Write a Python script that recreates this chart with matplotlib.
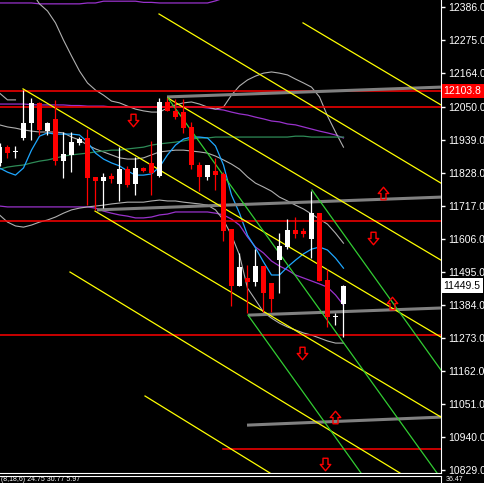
import numpy as np
import matplotlib
matplotlib.use('Agg')
import matplotlib.pyplot as plt
from matplotlib.path import Path
from matplotlib.transforms import blended_transform_factory

# candles (bar index 0..43)
opens = [11862, 11916, 11900, 11946, 11996, 12064, 11969, 12010, 11868, 11889,
         11929, 11946, 11815, 11801, 11818, 11791, 11842, 11791, 11845, 11862,
         11818, 12067, 12037, 12033, 11983, 11855, 11815, 11835, 11825, 11640,
         11448, 11475, 11461, 11515, 11458, 11535, 11579, 11636, 11633, 11606,
         11694, 11468, 11343, 11387]
highs = [11930, 11922, 11919, 12107, 12080, 12066, 11999, 12074, 11966, 11966,
         11949, 11976, 11815, 11828, 11828, 11916, 11852, 11882, 11849, 11936,
         12080, 12080, 12077, 12077, 11999, 11865, 11855, 11879, 11831, 11640,
         11559, 11519, 11572, 11515, 11458, 11626, 11673, 11680, 11643, 11768,
         11694, 11505, 11357, 11450]
lows = [11850, 11879, 11879, 11939, 11939, 11956, 11956, 11855, 11811, 11831,
        11922, 11720, 11704, 11710, 11794, 11734, 11781, 11754, 11830, 11754,
        11815, 12037, 12010, 11963, 11842, 11768, 11805, 11771, 11599, 11381,
        11448, 11357, 11448, 11360, 11360, 11424, 11572, 11609, 11613, 11542,
        11465, 11310, 11317, 11276]
closes = [11916, 11895, 11903, 11996, 12064, 11973, 11996, 11868, 11892, 11932,
          11942, 11811, 11801, 11815, 11808, 11842, 11788, 11845, 11835, 11828,
          12067, 12037, 12016, 11979, 11855, 11815, 11855, 11821, 11633, 11448,
          11512, 11461, 11515, 11424, 11404, 11583, 11636, 11623, 11623, 11694,
          11465, 11344, 11346, 11449.5]

# moving averages
fast_ma = [11845, 11831, 11821, 11845, 11905, 11952, 11963, 11959, 11959, 11959,
           11956, 11932, 11895, 11875, 11862, 11852, 11835, 11821, 11821, 11825,
           11848, 11889, 11922, 11942, 11949, 11949, 11946, 11919, 11855, 11754,
           11693, 11619, 11576, 11529, 11485, 11485, 11512, 11535, 11556, 11572,
           11579, 11569, 11542, 11508]
slow_ma = [11841, 11848, 11852, 11855, 11862, 11868, 11872, 11878, 11885, 11889,
           11892, 11895, 11899, 11902, 11905, 11905, 11909, 11912, 11915, 11922,
           11926, 11929, 11932, 11936, 11942, 11946, 11946, 11949, 11949, 11949,
           11949, 11949, 11949, 11949, 11949, 11949, 11949, 11952, 11952, 11949,
           11949, 11949, 11949, 11949]

# long bands (purple)
band_long_upper = [12400, 12400, 12400, 12400, 12400, 12397, 12397, 12397, 12397, 12397,
                   12397, 12400, 12400, 12406, 12406, 12406, 12406, 12406, 12402, 12402,
                   12400, 12400, 12400, 12400, 12400, 12400, 12400, 12407, 12416, 12430,
                   12445, 12470, 12490, 12510, 12530, 12545, 12555, 12565, 12570, 12575,
                   12580, 12585, 12595, 12610]
band_long_mid = [12060, 12060, 12060, 12060, 12058, 12057, 12057, 12057, 12057, 12055,
                 12055, 12053, 12053, 12053, 12050, 12050, 12050, 12050, 12050, 12050,
                 12050, 12050, 12050, 12050, 12050, 12050, 12047, 12043, 12040, 12033,
                 12027, 12023, 12016, 12010, 12003, 12000, 11993, 11990, 11983, 11976,
                 11969, 11963, 11956, 11946]
band_long_lower = [11717, 11714, 11714, 11714, 11714, 11714, 11714, 11714, 11714, 11714,
                   11714, 11714, 11710, 11700, 11693, 11687, 11683, 11677, 11677, 11680,
                   11687, 11690, 11697, 11697, 11697, 11697, 11697, 11693, 11687, 11673,
                   11653, 11613, 11579, 11559, 11532, 11515, 11502, 11485, 11475, 11465,
                   11455, 11444, 11418, 11384]

# short bands (grey); the upper one leaves the chart around bar 3
band_short_upper = [12097, 12074, 12074, np.nan, 12437, 12397, 12373, 12333, 12275, 12222,
                    12171, 12131, 12107, 12090, 12070, 12064, 12053, 12043, 12037, 12033,
                    12033, 12047, 12057, 12064, 12067, 12060, 12050, 12043, 12050, 12090,
                    12121, 12141, 12154, 12164, 12168, 12164, 12158, 12144, 12131, 12117,
                    12084, 12020, 11966, 11915]
band_short_mid = [11990, 11983, 11979, 11973, 11969, 11966, 11966, 11966, 11963, 11949,
                  11939, 11922, 11909, 11899, 11889, 11879, 11875, 11875, 11879, 11889,
                  11899, 11902, 11905, 11905, 11902, 11899, 11895, 11885, 11872, 11858,
                  11841, 11815, 11794, 11781, 11767, 11747, 11734, 11720, 11707, 11690,
                  11673, 11656, 11626, 11592]
band_short_lower = [11687, 11663, 11650, 11646, 11653, 11663, 11670, 11680, 11693, 11704,
                    11710, 11714, 11717, 11720, 11724, 11727, 11730, 11730, 11730, 11734,
                    11737, 11734, 11734, 11730, 11727, 11724, 11720, 11704, 11670, 11619,
                    11552, 11441, 11401, 11360, 11340, 11323, 11310, 11300, 11290, 11283,
                    11273, 11263, 11256, 11256]

# trend lines: (bar0, price0, bar1, price1)
yellow_lines = [(37.94, 12333, 55.19, 12057),
                (19.94, 12363, 55.19, 11794),
                (21.06, 12080, 55.19, 11535),
                (2.94, 12111, 55.19, 11276),
                (11.94, 11700, 55.19, 11007),
                (8.81, 11495, 50.06, 10819),
                (18.19, 11078, 33.81, 10819)]
green_lines = [(21.06, 12080, 54.69, 10819),
               (39.06, 11771, 55.19, 11165),
               (31.06, 11350, 45.19, 10819)]
grey_lines = [(20.94, 12084, 55.19, 12117),
              (12.19, 11704, 55.19, 11747),
              (31.06, 11350, 55.19, 11374),
              (30.94, 10980, 55.19, 11007)]
red_levels = [12103.8, 12050, 11667, 11282]
red_short_start = 27.94
red_short_level = 10899

up_arrow_bars = [47.94, 49.06, 41.94]
up_arrow_prices = [11761, 11392, 11008]
down_arrow_bars = [16.69, 46.69, 37.81, 40.69]
down_arrow_prices = [12006, 11609, 11224, 10850]

price_ticks = [12386.0, 12275.0, 12164.0, 12050.0, 11939.0, 11828.0, 11717.0,
               11606.0, 11495.0, 11384.0, 11273.0, 11162.0, 11051.0, 10940.0, 10829.0]
bid_price = 11449.5
sub_text = "(8,18,6) 24.75 30.77 5.97"
sub_value = "36.47"

W, H = 485, 483


def arrow_marker(up=True):
    verts = [(-0.2, -0.5), (0.2, -0.5), (0.2, 0.0), (0.42, 0.0), (0.0, 0.5),
             (-0.42, 0.0), (-0.2, 0.0), (-0.2, -0.5)]
    if not up:
        verts = [(x, -y) for x, y in verts]
    return Path(verts, closed=True)


def draw_candles(ax):
    idx = np.arange(len(opens))
    o = np.array(opens)
    c = np.array(closes)
    colors = ['white' if cc >= oo else '#ff0000' for oo, cc in zip(o, c)]
    ax.vlines(idx, lows, highs, colors=colors, linewidth=0.9, zorder=5)
    bottoms = np.minimum(o, c)
    heights = np.maximum(np.abs(c - o), 3)
    ax.bar(idx, heights, bottom=bottoms, width=0.66, color=colors,
           linewidth=0, zorder=6)


def main():
    plt.rcParams['font.family'] = ['Liberation Sans', 'DejaVu Sans']
    fig = plt.figure(figsize=(W / 100, H / 100), dpi=100, facecolor='black')
    ax = fig.add_axes([0, 1 - 473 / H, 441 / W, 473 / H])
    ax.set_facecolor('black')

    idx = np.arange(len(opens))
    ax.plot(idx, band_long_upper, color='#9932cc', lw=0.9, zorder=2)
    ax.plot(idx, band_long_mid, color='#9932cc', lw=0.9, zorder=2)
    ax.plot(idx, band_long_lower, color='#9932cc', lw=0.9, zorder=2)
    ax.plot(idx, band_short_upper, color='#b0b0b0', lw=0.8, zorder=2)
    ax.plot(idx, band_short_mid, color='#b0b0b0', lw=0.8, zorder=2)
    ax.plot(idx, band_short_lower, color='#b0b0b0', lw=0.8, zorder=2)
    ax.plot(idx, slow_ma, color='#2e8b57', lw=0.9, zorder=3)
    ax.plot(idx, fast_ma, color='#1ea7ff', lw=0.9, zorder=3)

    for lvl in red_levels:
        ax.axhline(lvl, color='#ff0000', lw=1.1, zorder=3)
    ax.plot([red_short_start, 56], [red_short_level, red_short_level],
            color='#ff0000', lw=1.1, zorder=3)

    for x0, p0, x1, p1 in grey_lines:
        ax.plot([x0, x1], [p0, p1], color='#808080', lw=2.2, zorder=3,
                solid_capstyle='butt')
    for x0, p0, x1, p1 in yellow_lines:
        ax.plot([x0, x1], [p0, p1], color='#ffff00', lw=0.9, zorder=4)
    for x0, p0, x1, p1 in green_lines:
        ax.plot([x0, x1], [p0, p1], color='#32cd32', lw=0.9, zorder=4)

    draw_candles(ax)

    ax.plot(up_arrow_bars, up_arrow_prices, ls='none', marker=arrow_marker(True),
            ms=9, mfc='none', mec='#ff0000', mew=1, zorder=7)
    ax.plot(down_arrow_bars, down_arrow_prices, ls='none', marker=arrow_marker(False),
            ms=9, mfc='none', mec='#ff0000', mew=1, zorder=7)

    ax.set_xlim(0.0625, 55.19)
    ax.set_ylim(10819, 12410)
    ax.set_xticks([])
    ax.yaxis.tick_right()
    ax.set_yticks(price_ticks)
    ax.set_yticklabels([f"{t:.1f}" for t in price_ticks])
    ax.tick_params(axis='y', colors='white', labelsize=7.5, length=3,
                   width=1, direction='out', pad=2)
    for side in ['top', 'left']:
        ax.spines[side].set_visible(False)
    ax.spines['right'].set_color('white')
    ax.spines['bottom'].set_color('white')

    trans = blended_transform_factory(ax.transAxes, ax.transData)
    ax.text(1.006, red_levels[0], f"{red_levels[0]:.1f}", transform=trans,
            color='white', fontsize=7.5, va='center', ha='left', zorder=10,
            bbox=dict(boxstyle='square,pad=0.2', fc='#ff0000', ec='none'))
    ax.text(1.006, bid_price, f"{bid_price:.1f}", transform=trans,
            color='black', fontsize=7.5, va='center', ha='left', zorder=10,
            bbox=dict(boxstyle='square,pad=0.2', fc='white', ec='none'))

    # indicator sub-window strip at the bottom
    sub = fig.add_axes([0, 0, 441 / W, (H - 476) / H])
    sub.set_facecolor('black')
    sub.set_xticks([])
    sub.set_yticks([])
    for side in ['bottom', 'left']:
        sub.spines[side].set_visible(False)
    sub.spines['top'].set_color('white')
    sub.spines['right'].set_color('white')
    fig.text(1 / W, 1.6 / H, sub_text, color='white', fontsize=5,
             va='baseline', ha='left')
    fig.text(446 / W, 1.6 / H, sub_value, color='white', fontsize=5,
             va='baseline', ha='left')

    fig.savefig('out.png', dpi=100, facecolor='black')


if __name__ == '__main__':
    main()
